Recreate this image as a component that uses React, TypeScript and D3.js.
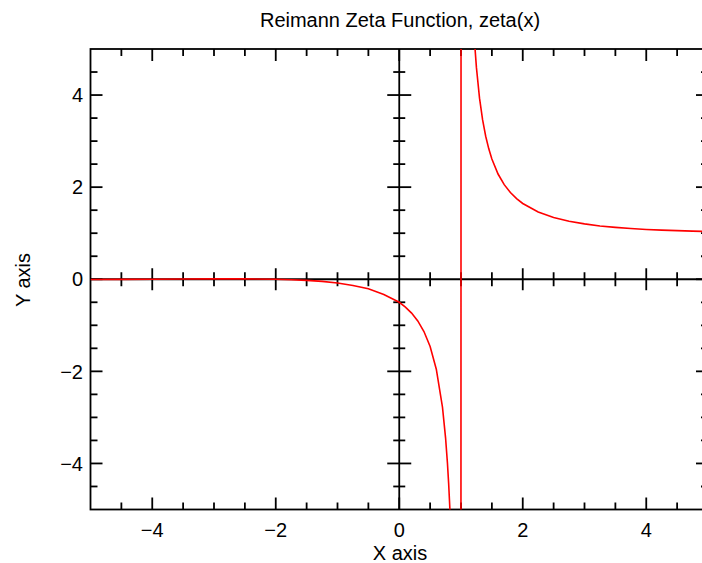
import React from 'react';
import * as d3 from 'd3';

const title = 'Reimann Zeta Function, zeta(x)';
const xLabel = 'X axis';
const yLabel = 'Y axis';

const zetaX = [
  -5, -4.5, -4, -3.5, -3, -2.5, -2, -1.75, -1.5, -1.25, -1, -0.75, -0.5, -0.25,
  0, 0.1, 0.2, 0.3, 0.4, 0.5, 0.6, 0.7, 0.75, 0.78, 0.8, 0.82, 0.85, 0.9, 0.95, 0.99,
  1.01, 1.05, 1.1, 1.15, 1.2, 1.22, 1.25, 1.3, 1.35, 1.4, 1.45, 1.5, 1.6, 1.7, 1.8, 1.9,
  2, 2.25, 2.5, 2.75, 3, 3.25, 3.5, 3.75, 4, 4.25, 4.5, 4.75, 5,
];
const zetaY = [
  -0.004, -0.003, 0, 0.004, 0.008, 0.008, 0, -0.012, -0.025, -0.047, -0.083, -0.136, -0.208, -0.33,
  -0.5, -0.604, -0.734, -0.905, -1.135, -1.46, -1.953, -2.778, -3.443, -3.984, -4.437, -4.99, -6.1, -9.43, -19.42, -99.42,
  100.58, 20.58, 10.58, 7.25, 5.592, 5.139, 4.595, 3.932, 3.46, 3.106, 2.832, 2.612, 2.285, 2.054, 1.882, 1.75,
  1.645, 1.46, 1.341, 1.259, 1.202, 1.158, 1.127, 1.102, 1.082, 1.067, 1.055, 1.045, 1.037,
];

const majorTicks = [-4, -2, 0, 2, 4];
const minorTicks = d3.range(-5, 5.01, 0.5).filter((v) => !majorTicks.includes(v) && Math.abs(v) !== 5);

const W = 702;
const H = 563;
const left = 90.5;
const right = 708;
const top = 49;
const bottom = 509.5;

const font = '"Liberation Sans", Arial, sans-serif';
const fmt = (v: number) => (v < 0 ? '\u2212' + Math.abs(v) : String(v));

const App = () => {
  const x = d3.scaleLinear().domain([-5, 5]).range([left, right]);
  const y = d3.scaleLinear().domain([-5, 5]).range([bottom, top]);

  const pts: [number, number][] = zetaX.map((v, i) => [v, zetaY[i]]);
  const line = d3.line<[number, number]>()
    .x((d) => x(d[0]))
    .y((d) => y(d[1]));

  const x0 = x(0);
  const y0 = y(0);

  const ticks = [];
  majorTicks.concat(minorTicks).forEach((v) => {
    const major = majorTicks.includes(v);
    const len = major ? 12 : 7;
    const c = major ? 11 : 7;
    const px = x(v);
    ticks.push(<line key={'xb' + v} x1={px} x2={px} y1={bottom} y2={bottom - len} />);
    ticks.push(<line key={'xt' + v} x1={px} x2={px} y1={top} y2={top + len} />);
    if (v !== 0) ticks.push(<line key={'xc' + v} x1={px} x2={px} y1={y0 - c} y2={y0 + c} />);
  });
  majorTicks.concat(minorTicks).forEach((v) => {
    const major = majorTicks.includes(v);
    const len = major ? 12 : 7;
    const c = major ? 12 : 6;
    const py = y(v);
    ticks.push(<line key={'yl' + v} x1={left} x2={left + len} y1={py} y2={py} />);
    ticks.push(<line key={'yr' + v} x1={right} x2={right - len} y1={py} y2={py} />);
    if (v !== 0) ticks.push(<line key={'yc' + v} x1={x0 - c} x2={x0 + c} y1={py} y2={py} />);
  });

  return (
    <svg width={W} height={H} style={{ position: 'absolute', left: 0, top: 0, display: 'block' }}>
      <rect width={W} height={H} fill="#fff" />
      <defs>
        <clipPath id="plot">
          <rect x={left} y={top} width={right - left} height={bottom - top} />
        </clipPath>
      </defs>
      <g stroke="#000" strokeWidth={1.8} fill="none">
        <rect x={left} y={top} width={right - left} height={bottom - top} />
        <line x1={left} x2={right} y1={y0} y2={y0} />
        <line x1={x0} x2={x0} y1={top} y2={bottom} />
        {ticks}
      </g>
      <path d={line(pts) || ''} fill="none" stroke="#ff0000" strokeWidth={1.6} clipPath="url(#plot)" />
      <g fontFamily={font} fontSize={20} fill="#000">
        {majorTicks.map((v) => (
          <text key={'xl' + v} x={x(v)} y={537} textAnchor="middle">{fmt(v)}</text>
        ))}
        {majorTicks.map((v) => (
          <text key={'yl' + v} x={83} y={y(v)} dy="0.36em" textAnchor="end">{fmt(v)}</text>
        ))}
        <text x={400} y={27} textAnchor="middle">{title}</text>
        <text x={400} y={560} textAnchor="middle">{xLabel}</text>
        <text transform={`translate(30,280) rotate(-90)`} textAnchor="middle">{yLabel}</text>
      </g>
    </svg>
  );
};

export default App;
